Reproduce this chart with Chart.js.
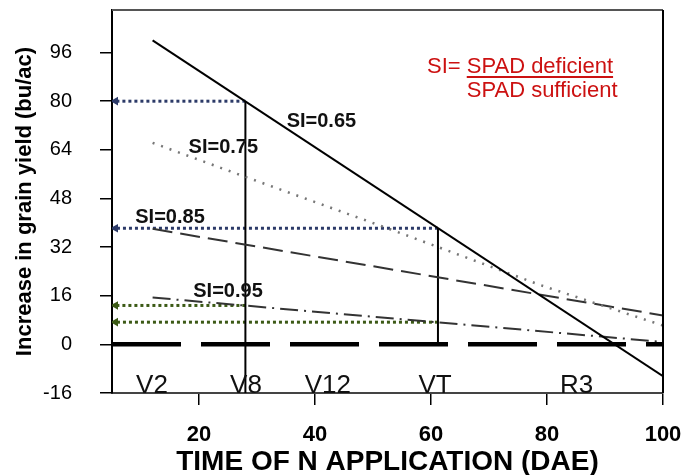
<!DOCTYPE html>
<html>
<head>
<meta charset="utf-8">
<script src="https://cdn.jsdelivr.net/npm/chart.js@4.4.1/dist/chart.umd.min.js"></script>
<style>
    html, body { margin: 0; padding: 0; background: #ffffff; }
    #wrap { width: 692px; height: 475px; position: relative; }
</style>
</head>
<body>
<div id="wrap"><canvas id="yieldChart"></canvas></div>
<script>
// values (x = days after emergence, y = bu/ac)
const xTicks = [20, 40, 60, 80, 100];
const yTicks = [-16, 0, 16, 32, 48, 64, 80, 96];

const si065Dae = [12, 100];
const si065Yield = [100, -10.5];
const si075Dae = [12, 28, 52.5, 79, 100];
const si075Yield = [66.3, 55.1, 38.2, 19.4, 6.2];
const si085Dae = [12, 100];
const si085Yield = [38, 9.5];
const si095Dae = [12, 100];
const si095Yield = [15.4, 0.8];
const baselineDae = [5, 100];
const baselineYield = [0, 0];

// application times marked on the chart
const v8Dae = 28;
const vtDae = 61.2;
const v8Yields = [80, 12.8];   // SI=0.65, SI=0.95 at V8
const vtYields = [38.2, 7.3];  // SI=0.65, SI=0.95 at VT
const arrowEndDae = 5.6;

const stageNames = ["V2", "V8", "V12", "VT", "R3"];
const stageDae = [11.9, 28.1, 42.2, 60.7, 85.1];
const stageYield = -13.5;

const siLabels = ["SI=0.65", "SI=0.75", "SI=0.85", "SI=0.95"];
const siLabelDae = [41.1, 24.2, 15, 25];
const siLabelYield = [73.3, 64.7, 41.9, 17.4];

const FONT = '"Liberation Sans", Arial, Helvetica, sans-serif';

const colors = {
    navy: "#2c3a68",
    green: "#3c5a16",
    red: "#cc1111",
    ink: "#111111",
};

function pts(xs, ys) {
    return xs.map((x, i) => ({ x, y: ys[i] }));
}

function arrow(fromDae, yieldValue, color) {
    return {
        data: [{ x: fromDae, y: yieldValue }, { x: arrowEndDae, y: yieldValue }],
        borderColor: color,
        backgroundColor: color,
        borderWidth: 3,
        borderDash: [3, 3],
        pointRadius: [0, 5],
        pointStyle: "triangle",
        rotation: -90,
        pointBorderWidth: 0,
    };
}

const overlay = {
    id: "overlay",
    afterDatasetsDraw(chart) {
        const { ctx, chartArea: a, scales: { x, y } } = chart;
        ctx.save();

        // top and right frame
        ctx.lineWidth = 2;
        ctx.strokeStyle = "#555";
        ctx.beginPath();
        ctx.moveTo(a.left, a.top);
        ctx.lineTo(a.right, a.top);
        ctx.stroke();
        ctx.strokeStyle = "#000";
        ctx.beginPath();
        ctx.moveTo(a.right, a.top);
        ctx.lineTo(a.right, a.bottom);
        ctx.stroke();

        // growth stages
        ctx.fillStyle = colors.ink;
        ctx.font = "26px " + FONT;
        ctx.textAlign = "center";
        ctx.textBaseline = "middle";
        stageNames.forEach((name, i) => {
            ctx.fillText(name, x.getPixelForValue(stageDae[i]), y.getPixelForValue(stageYield));
        });

        // curve labels
        ctx.font = "bold 20px " + FONT;
        siLabels.forEach((label, i) => {
            ctx.fillText(label, x.getPixelForValue(siLabelDae[i]), y.getPixelForValue(siLabelYield[i]));
        });

        // SI definition
        ctx.fillStyle = colors.red;
        ctx.strokeStyle = colors.red;
        ctx.font = "22px " + FONT;
        ctx.textAlign = "left";
        ctx.textBaseline = "alphabetic";
        const fx = a.left + 315;
        const fy = a.top + 63;
        ctx.fillText("SI=", fx, fy);
        const nx = fx + ctx.measureText("SI= ").width;
        ctx.fillText("SPAD deficient", nx, fy);
        const w = ctx.measureText("SPAD deficient").width;
        ctx.lineWidth = 2;
        ctx.beginPath();
        ctx.moveTo(nx, fy + 4);
        ctx.lineTo(nx + w, fy + 4);
        ctx.stroke();
        ctx.fillText("SPAD sufficient", nx, fy + 24);

        ctx.restore();
    },
};

new Chart(document.getElementById("yieldChart"), {
    type: "scatter",
    data: {
        datasets: [
            {
                data: pts(baselineDae, baselineYield),
                borderColor: "#000",
                borderWidth: 4.5,
                borderDash: [69, 20],
            },
            {
                data: pts(si065Dae, si065Yield),
                borderColor: "#000",
                borderWidth: 2,
            },
            {
                data: pts(si075Dae, si075Yield),
                borderColor: "#777",
                borderWidth: 2.5,
                borderDash: [2, 7],
            },
            {
                data: pts(si085Dae, si085Yield),
                borderColor: "#333",
                borderWidth: 2,
                borderDash: [20, 8],
            },
            {
                data: pts(si095Dae, si095Yield),
                borderColor: "#333",
                borderWidth: 2,
                borderDash: [18, 6, 2, 6],
            },
            {
                data: [{ x: v8Dae, y: -16 }, { x: v8Dae, y: v8Yields[0] }],
                borderColor: "#000",
                borderWidth: 2,
            },
            {
                data: [{ x: vtDae, y: 0 }, { x: vtDae, y: vtYields[0] }],
                borderColor: "#000",
                borderWidth: 2,
            },
            arrow(v8Dae, v8Yields[0], colors.navy),
            arrow(vtDae, vtYields[0], colors.navy),
            arrow(v8Dae, v8Yields[1], colors.green),
            arrow(vtDae, vtYields[1], colors.green),
        ].map((ds) => Object.assign({ showLine: true, pointRadius: 0, fill: false }, ds)),
    },
    options: {
        responsive: true,
        maintainAspectRatio: false,
        animation: false,
        layout: { padding: { left: 0, top: 10, right: 29, bottom: 0 } },
        plugins: {
            legend: { display: false },
            tooltip: { enabled: false },
        },
        scales: {
            x: {
                type: "linear",
                min: 5,
                max: 100,
                afterBuildTicks(scale) {
                    scale.ticks = xTicks.map((value) => ({ value }));
                },
                afterFit(scale) {
                    scale.height = 82;
                    scale.paddingLeft = 0;
                    scale.paddingRight = 0;
                },
                grid: {
                    drawOnChartArea: false,
                    tickLength: 12,
                    color: "#000",
                    lineWidth: 1.5,
                },
                border: { color: "#444", width: 2 },
                ticks: {
                    color: "#000",
                    padding: 17,
                    maxRotation: 0,
                    font: { family: FONT, size: 22, weight: "bold" },
                },
                title: {
                    display: true,
                    text: "TIME OF N APPLICATION (DAE)",
                    color: "#000",
                    padding: { top: 0, bottom: -4 },
                    font: { family: FONT, size: 28, weight: "bold" },
                },
            },
            y: {
                type: "linear",
                min: -16,
                max: 110,
                afterBuildTicks(scale) {
                    scale.ticks = yTicks.map((value) => ({ value }));
                },
                afterFit(scale) {
                    scale.width = 112;
                    scale.paddingTop = 0;
                    scale.paddingBottom = 0;
                },
                grid: {
                    drawOnChartArea: false,
                    tickLength: 12,
                    color: "#000",
                    lineWidth: 1.5,
                },
                border: { color: "#000", width: 2 },
                ticks: {
                    color: "#000",
                    padding: 28,
                    font: { family: FONT, size: 20 },
                },
                title: {
                    display: true,
                    text: "Increase in grain yield (bu/ac)",
                    color: "#000",
                    padding: { top: 12, bottom: 0 },
                    font: { family: FONT, size: 22, weight: "bold" },
                },
            },
        },
    },
    plugins: [overlay],
});
</script>
</body>
</html>
